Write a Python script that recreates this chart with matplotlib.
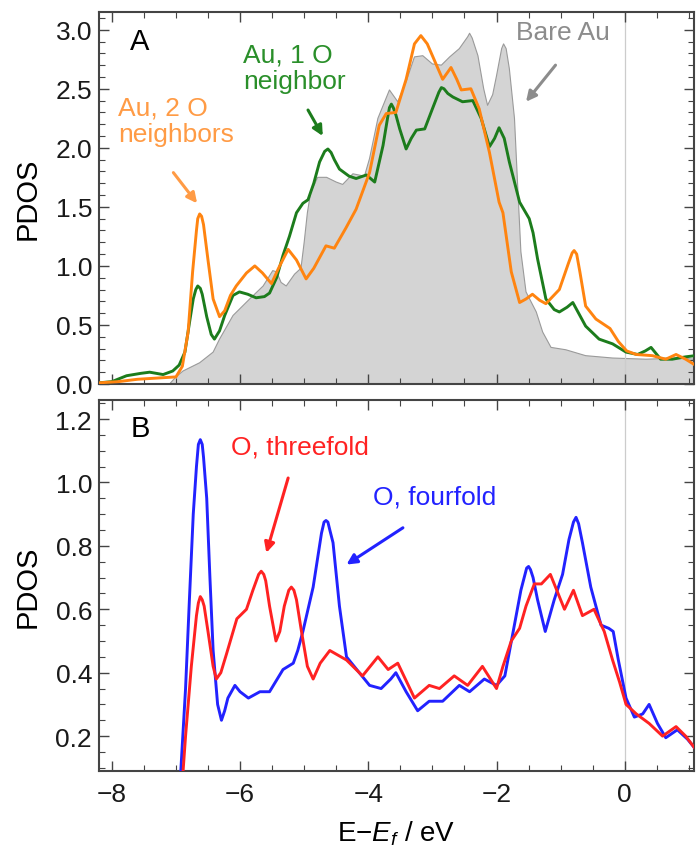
import matplotlib
matplotlib.use("Agg")
import matplotlib.pyplot as plt
from matplotlib.ticker import MultipleLocator

plt.rcParams['font.family'] = ['Liberation Sans', 'DejaVu Sans']
plt.rcParams['mathtext.fontset'] = 'custom'
plt.rcParams['mathtext.rm'] = 'Liberation Sans'
plt.rcParams['mathtext.it'] = 'Liberation Sans:italic'

# %%
# Panel A: Au PDOS
au2_x = [-8.2, -7.9, -7.6, -7.3, -7.0, -6.9, -6.81, -6.74, -6.68, -6.66, -6.63, -6.60,
         -6.57, -6.50, -6.42, -6.32, -6.24, -6.15, -6.06, -5.90, -5.77, -5.65, -5.51,
         -5.40, -5.25, -5.12, -4.97, -4.85, -4.66, -4.53, -4.35, -4.19, -3.98, -3.83,
         -3.72, -3.57, -3.41, -3.28, -3.18, -3.08, -3.0, -2.84, -2.71, -2.62, -2.55,
         -2.40, -2.27, -2.11, -1.96, -1.90, -1.77, -1.64, -1.54, -1.44, -1.33, -1.23,
         -1.02, -0.88, -0.82, -0.79, -0.75, -0.70, -0.61, -0.45, -0.23, -0.10, 0.03,
         0.18, 0.43, 0.64, 0.80, 0.95, 1.10]
au2_y = [0.01, 0.02, 0.04, 0.05, 0.06, 0.15, 0.44, 0.95, 1.30, 1.40, 1.44, 1.42,
         1.35, 1.05, 0.72, 0.57, 0.62, 0.75, 0.83, 0.94, 1.00, 0.94, 0.85,
         0.98, 1.14, 1.05, 0.89, 0.98, 1.17, 1.15, 1.32, 1.48, 1.79, 2.19,
         2.29, 2.30, 2.58, 2.88, 2.95, 2.88, 2.78, 2.58, 2.68, 2.58, 2.49,
         2.50, 2.33, 1.96, 1.54, 1.45, 0.95, 0.69, 0.72, 0.76, 0.71, 0.68,
         0.80, 1.02, 1.11, 1.13, 1.10, 0.95, 0.66, 0.55, 0.47, 0.36, 0.28,
         0.25, 0.24, 0.21, 0.25, 0.21, 0.16]

au1_x = [-8.2, -8.0, -7.77, -7.55, -7.41, -7.20, -7.05, -6.95, -6.86, -6.78, -6.73, -6.69,
         -6.66, -6.62, -6.59, -6.52, -6.45, -6.40, -6.32, -6.24, -6.11, -6.01, -5.88,
         -5.75, -5.62, -5.54, -5.43, -5.33, -5.23, -5.12, -5.02, -4.94, -4.85, -4.76,
         -4.68, -4.63, -4.58, -4.53, -4.45, -4.30, -4.19, -4.03, -3.90, -3.77, -3.70,
         -3.67, -3.64, -3.61, -3.57, -3.51, -3.41, -3.33, -3.25, -3.12, -3.0, -2.90,
         -2.86, -2.82, -2.76, -2.68, -2.53, -2.37, -2.24, -2.11, -2.03, -1.96, -1.88,
         -1.80, -1.64, -1.49, -1.43, -1.36, -1.23, -1.10, -1.02, -0.90, -0.81, -0.72,
         -0.61, -0.40, -0.19, 0.02, 0.20, 0.32, 0.41, 0.50, 0.56, 0.74, 0.95, 1.10]
au1_y = [0.01, 0.02, 0.07, 0.09, 0.10, 0.08, 0.11, 0.16, 0.27, 0.55, 0.72, 0.80,
         0.83, 0.81, 0.76, 0.57, 0.42, 0.38, 0.45, 0.58, 0.75, 0.78, 0.76,
         0.73, 0.74, 0.77, 0.90, 1.09, 1.25, 1.45, 1.53, 1.56, 1.70, 1.88,
         1.97, 1.99, 1.96, 1.90, 1.82, 1.76, 1.74, 1.77, 1.71, 2.02, 2.25,
         2.34, 2.37, 2.34, 2.28, 2.16, 1.99, 2.08, 2.15, 2.16, 2.33, 2.47,
         2.51, 2.50, 2.46, 2.43, 2.39, 2.40, 2.25, 2.01, 2.08, 2.17, 2.08,
         1.88, 1.54, 1.40, 1.28, 1.06, 0.72, 0.63, 0.61, 0.65, 0.69, 0.60,
         0.49, 0.38, 0.34, 0.27, 0.25, 0.28, 0.31, 0.25, 0.21, 0.21, 0.23, 0.24]

bare_x = [-8.2, -7.1, -7.0, -6.89, -6.63, -6.42, -6.32, -6.11, -5.85, -5.64, -5.49, -5.43,
          -5.36, -5.28, -5.15, -5.05, -5.0, -4.95, -4.90, -4.79, -4.65, -4.50, -4.40,
          -4.24, -4.06, -3.98, -3.85, -3.67, -3.54, -3.41, -3.28, -3.15, -3.0, -2.86,
          -2.73, -2.58, -2.45, -2.42, -2.38, -2.29, -2.20, -2.14, -2.06, -2.0, -1.92,
          -1.89, -1.85, -1.80, -1.72, -1.67, -1.62, -1.54, -1.38, -1.28, -1.15, -0.92,
          -0.61, -0.19, 0.33, 0.85, 1.10]
bare_y = [0.0, 0.0, 0.06, 0.11, 0.18, 0.27, 0.38, 0.58, 0.72, 0.83, 0.96, 0.95,
          0.86, 0.83, 0.93, 0.98, 1.20, 1.45, 1.62, 1.75, 1.75, 1.71, 1.69,
          1.78, 1.76, 1.91, 2.25, 2.49, 2.39, 2.56, 2.77, 2.78, 2.71, 2.70,
          2.77, 2.84, 2.94, 2.97, 2.93, 2.78, 2.50, 2.36, 2.45, 2.61, 2.84,
          2.88, 2.84, 2.67, 2.25, 1.68, 1.12, 0.78, 0.61, 0.44, 0.31, 0.29,
          0.24, 0.22, 0.21, 0.22, 0.21]

# %%
# Panel B: O PDOS
four_x = [-6.95, -6.85, -6.79, -6.73, -6.68, -6.65, -6.62, -6.59, -6.57, -6.52, -6.47,
          -6.42, -6.35, -6.29, -6.24, -6.19, -6.08, -6.0, -5.87, -5.69, -5.54, -5.45,
          -5.33, -5.17, -5.10, -5.02, -4.86, -4.73, -4.69, -4.66, -4.63, -4.60, -4.55,
          -4.45, -4.34, -4.14, -3.98, -3.80, -3.65, -3.57, -3.41, -3.23, -3.05, -2.84,
          -2.58, -2.42, -2.19, -2.0, -1.87, -1.74, -1.62, -1.53, -1.50, -1.47, -1.43,
          -1.36, -1.24, -1.10, -0.97, -0.87, -0.80, -0.76, -0.72, -0.66, -0.53, -0.37,
          -0.25, -0.18, -0.10, 0.02, 0.15, 0.28, 0.38, 0.51, 0.64, 0.82, 0.98, 1.10]
four_y = [0.0, 0.35, 0.63, 0.90, 1.05, 1.12, 1.135, 1.12, 1.08, 0.95, 0.70,
          0.47, 0.30, 0.25, 0.28, 0.32, 0.36, 0.34, 0.32, 0.34, 0.34, 0.37,
          0.41, 0.43, 0.47, 0.53, 0.67, 0.84, 0.875, 0.88, 0.875, 0.85, 0.81,
          0.61, 0.45, 0.40, 0.36, 0.35, 0.38, 0.40, 0.34, 0.28, 0.31, 0.31,
          0.36, 0.34, 0.38, 0.36, 0.39, 0.53, 0.66, 0.73, 0.735, 0.725, 0.70,
          0.63, 0.53, 0.63, 0.71, 0.82, 0.875, 0.89, 0.87, 0.81, 0.67, 0.55,
          0.54, 0.53, 0.44, 0.32, 0.26, 0.27, 0.30, 0.24, 0.195, 0.22, 0.19, 0.16]

three_x = [-6.92, -6.85, -6.76, -6.68, -6.65, -6.62, -6.59, -6.56, -6.50, -6.42, -6.37,
           -6.30, -6.21, -6.05, -5.90, -5.80, -5.71, -5.67, -5.63, -5.60, -5.54, -5.44,
           -5.38, -5.31, -5.24, -5.20, -5.16, -5.12, -5.05, -4.95, -4.86, -4.75, -4.60,
           -4.34, -4.09, -3.85, -3.69, -3.54, -3.28, -3.05, -2.89, -2.66, -2.45, -2.22,
           -2.0, -1.90, -1.77, -1.64, -1.54, -1.41, -1.30, -1.16, -1.04, -0.94, -0.80,
           -0.66, -0.48, -0.32, -0.19, -0.08, 0.02, 0.18, 0.38, 0.59, 0.80, 0.95, 1.10]
three_y = [0.0, 0.20, 0.42, 0.58, 0.62, 0.64, 0.63, 0.61, 0.53, 0.42, 0.38,
           0.40, 0.46, 0.57, 0.60, 0.66, 0.71, 0.72, 0.71, 0.69, 0.61, 0.50,
           0.53, 0.61, 0.66, 0.67, 0.66, 0.63, 0.54, 0.42, 0.38, 0.43, 0.47,
           0.44, 0.39, 0.45, 0.41, 0.43, 0.32, 0.36, 0.35, 0.39, 0.36, 0.42,
           0.35, 0.42, 0.50, 0.54, 0.61, 0.68, 0.68, 0.71, 0.65, 0.60, 0.66,
           0.58, 0.60, 0.53, 0.44, 0.37, 0.30, 0.27, 0.24, 0.20, 0.23, 0.20, 0.16]

# %%
c_orange, c_orange_txt = '#ff8410', '#ff9b45'
c_green, c_green_txt = '#1c7c1c', '#2a8f2a'
c_gray = '#8c8c8c'
c_red = '#ff2222'
c_blue = '#2222ff'
frame = '#444444'

fig = plt.figure(figsize=(6.96, 8.53), dpi=100)
ax_a = fig.add_axes([99 / 696, 1 - 385 / 853, 595 / 696, 372 / 853])
ax_b = fig.add_axes([99 / 696, 1 - 772 / 853, 595 / 696, 371 / 853])

for ax in (ax_a, ax_b):
    ax.set_xlim(-8.2, 1.08)
    ax.axvline(0, color='#cccccc', lw=0.9, zorder=1.5)
    ax.xaxis.set_major_locator(MultipleLocator(2))
    ax.xaxis.set_minor_locator(MultipleLocator(0.5))
    ax.tick_params(which='both', direction='in', top=True, right=True,
                   color=frame, labelsize=19, labelcolor='#1a1a1a')
    ax.tick_params(which='major', length=7, width=1.0)
    ax.tick_params(which='minor', length=4, width=0.8)
    ax.tick_params(axis='y', pad=5)
    ax.tick_params(axis='x', pad=8)
    for s in ax.spines.values():
        s.set_color(frame)
        s.set_linewidth(1.5)
    ax.set_ylabel('PDOS', fontsize=21, labelpad=10)

# Panel A
ax_a.fill_between(bare_x, 0, bare_y, facecolor='#d4d4d4', edgecolor='none', zorder=1)
ax_a.plot(bare_x, bare_y, color='#9a9a9a', lw=0.8, zorder=1.2)
ax_a.plot(au1_x, au1_y, color=c_green, lw=2.1, zorder=3,
          solid_joinstyle='round', solid_capstyle='round')
ax_a.plot(au2_x, au2_y, color=c_orange, lw=2.1, zorder=3,
          solid_joinstyle='round', solid_capstyle='round')
ax_a.set_ylim(0, 3.15)
ax_a.yaxis.set_major_locator(MultipleLocator(0.5))
ax_a.yaxis.set_minor_locator(MultipleLocator(0.1))
ax_a.yaxis.set_major_formatter('{x:.1f}')
ax_a.tick_params(labelbottom=False)

ax_a.text(-7.71, 3.02, 'A', fontsize=21, va='top', ha='left')
ax_a.text(-7.90, 2.44, 'Au, 2 O\nneighbors', color=c_orange_txt, fontsize=19,
          va='top', ha='left', linespacing=1.1)
ax_a.text(-5.95, 2.89, 'Au, 1 O\nneighbor', color=c_green_txt, fontsize=19,
          va='top', ha='left', linespacing=1.1)
ax_a.text(-1.70, 3.08, 'Bare Au', color=c_gray, fontsize=19, va='top', ha='left')

arrow = dict(arrowstyle='-|>,head_length=0.6,head_width=0.3', lw=2.2, shrinkA=0, shrinkB=0)
ax_a.annotate('', xy=(-6.67, 1.53), xytext=(-7.04, 1.79),
              arrowprops=dict(arrow, color=c_orange_txt))
ax_a.annotate('', xy=(-4.71, 2.10), xytext=(-4.94, 2.32),
              arrowprops=dict(arrow, color=c_green))
ax_a.annotate('', xy=(-1.54, 2.39), xytext=(-1.08, 2.70),
              arrowprops=dict(arrow, color=c_gray))

# Panel B
ax_b.plot(four_x, four_y, color=c_blue, lw=2.1, zorder=3,
          solid_joinstyle='round', solid_capstyle='round')
ax_b.plot(three_x, three_y, color=c_red, lw=2.1, zorder=3,
          solid_joinstyle='round', solid_capstyle='round')
ax_b.set_ylim(0.09, 1.26)
ax_b.yaxis.set_major_locator(MultipleLocator(0.2))
ax_b.yaxis.set_minor_locator(MultipleLocator(0.05))
ax_b.yaxis.set_major_formatter('{x:.1f}')
ax_b.set_xticks([-8, -6, -4, -2, 0])
ax_b.set_xticklabels(['\u22128', '\u22126', '\u22124', '\u22122', '0'])
ax_b.set_xlabel('E\u2212$E_f$ / eV', fontsize=20, labelpad=9)

ax_b.text(-7.71, 1.215, 'B', fontsize=21, va='top', ha='left')
ax_b.text(-6.14, 1.15, 'O, threefold', color=c_red, fontsize=19, va='top', ha='left')
ax_b.text(-3.92, 0.995, 'O, fourfold', color=c_blue, fontsize=19, va='top', ha='left')
ax_b.annotate('', xy=(-5.59, 0.778), xytext=(-5.25, 1.014),
              arrowprops=dict(arrow, color=c_red))
ax_b.annotate('', xy=(-4.34, 0.741), xytext=(-3.46, 0.857),
              arrowprops=dict(arrow, color=c_blue))

plt.savefig('out.png', dpi=100)
